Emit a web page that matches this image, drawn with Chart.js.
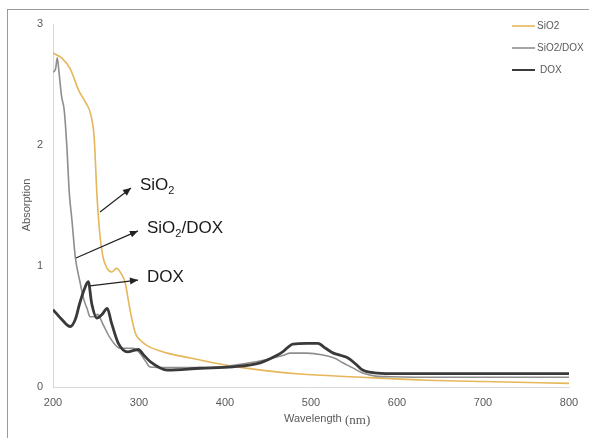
<!DOCTYPE html>
<html>
<head>
<meta charset="utf-8">
<script src="https://cdn.jsdelivr.net/npm/chart.js@4.4.0/dist/chart.umd.min.js"></script>
<style>
  body { margin: 0; background: #fff; }
  #wrap { width: 589px; height: 438px; position: relative; }
</style>
</head>
<body>
<div id="wrap"><canvas id="chart"></canvas></div>
<script>
const sio2X = [200, 210, 220, 230, 238, 244, 248, 251, 254, 258, 263, 268, 274, 279, 284, 288, 292, 296, 301, 310, 333, 360, 386, 420, 487, 553, 630, 700, 800];
const sio2Y = [2.76, 2.72, 2.63, 2.45, 2.35, 2.25, 2.05, 1.6, 1.3, 1.08, 0.98, 0.95, 0.98, 0.94, 0.86, 0.7, 0.55, 0.44, 0.39, 0.34, 0.28, 0.24, 0.2, 0.16, 0.107, 0.083, 0.058, 0.045, 0.03];

const sio2DoxX = [200, 203, 205, 207, 210, 213, 216, 219, 222, 226, 231, 236, 240, 243, 248, 252, 258, 266, 278, 293, 301, 307, 313, 333, 360, 400, 429, 450, 467, 476, 495, 514, 527, 537, 548, 560, 575, 592, 650, 800];
const sio2DoxY = [2.6, 2.63, 2.72, 2.6, 2.4, 2.29, 2.0, 1.6, 1.38, 1.07, 0.88, 0.72, 0.64, 0.58, 0.58, 0.6, 0.52, 0.41, 0.32, 0.32, 0.28, 0.22, 0.165, 0.16, 0.16, 0.17, 0.2, 0.23, 0.26, 0.28, 0.28, 0.265, 0.24, 0.2, 0.16, 0.115, 0.09, 0.085, 0.08, 0.08];

const doxX = [200, 210, 220, 226, 231, 236, 241, 245, 251, 257, 263, 268, 276, 287, 293, 299, 306, 313, 333, 371, 409, 441, 460, 467, 479, 495, 508, 517, 526, 535, 543, 552, 560, 577, 600, 800];
const doxY = [0.64, 0.56, 0.5, 0.56, 0.69, 0.8, 0.87, 0.69, 0.57, 0.6, 0.65, 0.53, 0.36, 0.29, 0.3, 0.31, 0.26, 0.21, 0.14, 0.155, 0.167, 0.2, 0.26, 0.29, 0.355, 0.36, 0.36, 0.32, 0.28, 0.26, 0.24, 0.19, 0.14, 0.115, 0.11, 0.11];

const seriesNames = ['SiO2', 'SiO2/DOX', 'DOX'];
const xTicks = [200, 300, 400, 500, 600, 700, 800];
const yTicks = [0, 1, 2, 3];

// Etiquetas con flecha: [texto, subíndice, resto, x inicio, y inicio, x fin, y fin]
const notas = [
  ['SiO', '2', '', 254.7, 1.446, 290.7, 1.645],
  ['SiO', '2', '/DOX', 226.7, 1.066, 298.8, 1.29],
  ['DOX', '', '', 243, 0.835, 298.8, 0.884]
];

const colores = ['#e6b65a', '#8e8e8e', '#3a3a3a'];
const anchos = [1.6, 1.6, 2.8];

function puntos(xs, ys) {
  return xs.map((x, i) => ({ x: x, y: ys[i] }));
}

const extras = {
  id: 'extras',
  beforeDraw(chart) {
    const c = chart.ctx;
    c.save();
    c.strokeStyle = '#9a9a9a';
    c.lineWidth = 1;
    c.strokeRect(7.5, 9.5, 620, 460);
    c.restore();
  },
  afterDraw(chart) {
    const c = chart.ctx;
    const sx = chart.scales.x, sy = chart.scales.y;
    c.save();
    // títulos de ejes
    c.fillStyle = '#595959';
    c.font = '11px "Liberation Sans", Arial, sans-serif';
    c.textBaseline = 'middle';
    c.save();
    c.translate(27, 205);
    c.rotate(-Math.PI / 2);
    c.textAlign = 'center';
    c.fillText('Absorption', 0, 0);
    c.restore();
    c.textAlign = 'left';
    c.fillText('Wavelength', 284, 419);
    c.font = '13px "Liberation Serif", "DejaVu Serif", serif';
    c.fillText('(nm)', 345, 421);

    // leyenda
    c.font = '10px "Liberation Sans", Arial, sans-serif';
    seriesNames.forEach((n, i) => {
      const y = 26 + i * 22;
      c.strokeStyle = colores[i];
      c.lineWidth = i === 2 ? 2 : 1.6;
      c.beginPath();
      c.moveTo(512, y);
      c.lineTo(535, y);
      c.stroke();
      c.fillStyle = '#595959';
      c.fillText(n, i === 2 ? 540 : 537, y);
    });

    // anotaciones con flecha
    notas.forEach(n => {
      const x0 = sx.getPixelForValue(n[3]), y0 = sy.getPixelForValue(n[4]);
      const x1 = sx.getPixelForValue(n[5]), y1 = sy.getPixelForValue(n[6]);
      c.strokeStyle = '#222';
      c.fillStyle = '#222';
      c.lineWidth = 1.2;
      c.beginPath();
      c.moveTo(x0, y0);
      c.lineTo(x1, y1);
      c.stroke();
      const a = Math.atan2(y1 - y0, x1 - x0);
      c.beginPath();
      c.moveTo(x1, y1);
      c.lineTo(x1 - 8 * Math.cos(a) + 3.5 * Math.sin(a), y1 - 8 * Math.sin(a) - 3.5 * Math.cos(a));
      c.lineTo(x1 - 8 * Math.cos(a) - 3.5 * Math.sin(a), y1 - 8 * Math.sin(a) + 3.5 * Math.cos(a));
      c.closePath();
      c.fill();
      let tx = x1 + 9;
      const ty = y1 - 3;
      c.fillStyle = '#1a1a1a';
      c.font = '17px "Liberation Sans", Arial, sans-serif';
      c.fillText(n[0], tx, ty);
      tx += c.measureText(n[0]).width;
      if (n[1]) {
        c.font = '11px "Liberation Sans", Arial, sans-serif';
        c.fillText(n[1], tx, ty + 6);
        tx += c.measureText(n[1]).width;
      }
      if (n[2]) {
        c.font = '17px "Liberation Sans", Arial, sans-serif';
        c.fillText(n[2], tx, ty);
      }
    });
    c.restore();
  }
};

new Chart(document.getElementById('chart'), {
  type: 'line',
  data: {
    datasets: [
      { label: seriesNames[0], data: puntos(sio2X, sio2Y) },
      { label: seriesNames[1], data: puntos(sio2DoxX, sio2DoxY) },
      { label: seriesNames[2], data: puntos(doxX, doxY) }
    ].map((d, i) => Object.assign(d, {
      borderColor: colores[i],
      borderWidth: anchos[i],
      pointRadius: 0,
      fill: false,
      cubicInterpolationMode: 'monotone'
    })).reverse()
  },
  options: {
    responsive: true,
    maintainAspectRatio: false,
    animation: false,
    layout: { padding: { top: 24, right: 20, left: 0, bottom: 0 } },
    plugins: { legend: { display: false }, tooltip: { enabled: false } },
    scales: {
      x: {
        type: 'linear',
        min: 200,
        max: 800,
        afterBuildTicks: s => { s.ticks = xTicks.map(v => ({ value: v })); },
        afterFit: s => { s.height = 51; },
        grid: { display: false },
        border: { color: '#d9d9d9', width: 1 },
        ticks: { color: '#595959', font: { size: 11, family: '"Liberation Sans", Arial' }, padding: 1, maxRotation: 0 }
      },
      y: {
        min: 0,
        max: 3,
        afterBuildTicks: s => { s.ticks = yTicks.map(v => ({ value: v })); },
        afterFit: s => { s.width = 53; },
        grid: { display: false },
        border: { color: '#d9d9d9', width: 1 },
        ticks: { color: '#595959', font: { size: 11, family: '"Liberation Sans", Arial' }, padding: 2 }
      }
    }
  },
  plugins: [extras]
});
</script>
</body>
</html>
